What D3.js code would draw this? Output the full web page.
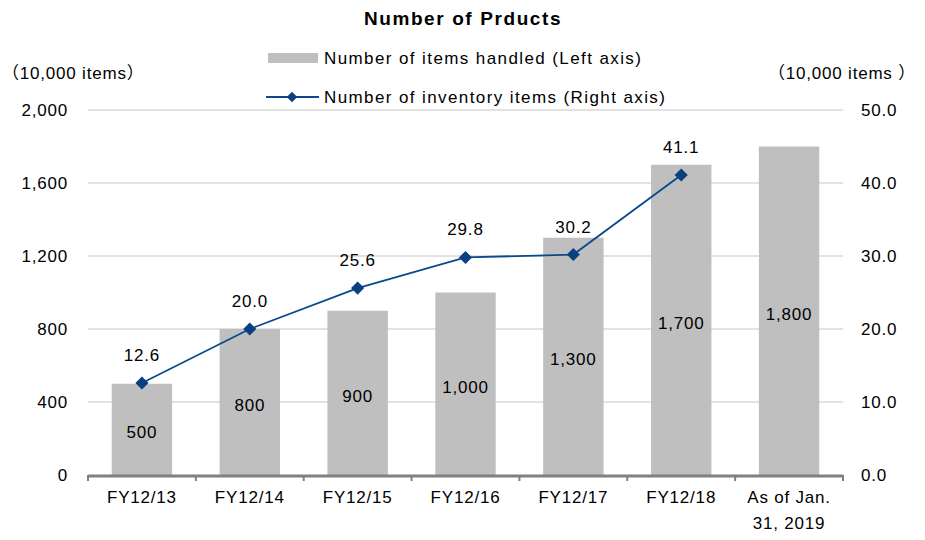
<!DOCTYPE html>
<html><head><meta charset="utf-8">
<script src="https://cdn.jsdelivr.net/npm/d3@7/dist/d3.min.js"></script>
<style>body{margin:0;background:#fff}svg{display:block}text{font-family:"Liberation Sans","Noto Sans CJK JP",sans-serif;fill:#000;letter-spacing:0.8px}</style>
</head><body><svg id="c" width="925" height="540"></svg>
<script>
const categories = ["FY12/13","FY12/14","FY12/15","FY12/16","FY12/17","FY12/18","As of Jan.|31, 2019"];
const itemsHandled = [500,800,900,1000,1300,1700,1800];
const inventoryItems = [12.6,20.0,25.6,29.8,30.2,41.1,null];
const leftTicks = [0,400,800,1200,1600,2000];
const rightTicks = [0,10,20,30,40,50];
const title = "Number of Prducts";
const legendLabels = ["Number of items handled (Left axis)","Number of inventory items (Right axis)"];
const leftUnit = "（10,000 items）";
const rightUnit = "（10,000 items ）";

const svg = d3.select("#c");
const L = 88, R = 843, T = 110, B = 475;
const x = d3.scaleBand().domain(categories).range([L,R]).paddingInner(0.44).paddingOuter(0.22);
const yL = d3.scaleLinear().domain([0,2000]).range([B,T]);
const yR = d3.scaleLinear().domain([0,50]).range([B,T]);
const fs = 17;

// gridlines
svg.append("g").selectAll("line").data(leftTicks.filter(d=>d>0)).join("line")
  .attr("x1",L).attr("x2",R).attr("y1",d=>yL(d)).attr("y2",d=>yL(d))
  .attr("stroke","#d9d9d9").attr("stroke-width",1.5);

// bars
svg.append("g").selectAll("rect").data(itemsHandled).join("rect")
  .attr("x",(d,i)=>x(categories[i])).attr("width",x.bandwidth())
  .attr("y",d=>yL(d)).attr("height",d=>B-yL(d)).attr("fill","#bfbfbf");

// bar labels
const fmt = d3.format(",");
svg.append("g").selectAll("text").data(itemsHandled).join("text")
  .attr("x",(d,i)=>x(categories[i])+x.bandwidth()/2)
  .attr("y",d=>(yL(d)+B)/2+3).attr("dy","0.35em")
  .attr("text-anchor","middle").attr("font-size",fs).text(d=>fmt(d));

// x axis line + ticks
svg.append("line").attr("x1",L).attr("x2",R).attr("y1",B+1).attr("y2",B+1).attr("stroke","#808080").attr("stroke-width",3);
svg.append("g").selectAll("line").data(d3.range(categories.length+1)).join("line")
  .attr("x1",i=>L+i*(R-L)/categories.length).attr("x2",i=>L+i*(R-L)/categories.length)
  .attr("y1",B).attr("y2",B+6).attr("stroke","#808080").attr("stroke-width",2);

// x labels
svg.append("g").selectAll("text").data(categories).join("text")
  .attr("x",d=>x(d)+x.bandwidth()/2).attr("y",B+28).attr("text-anchor","middle").attr("font-size",fs)
  .each(function(d){
    const parts=d.split("|");
    d3.select(this).selectAll("tspan").data(parts).join("tspan")
      .attr("x",x(d)+x.bandwidth()/2).attr("dy",(p,j)=>j?26:0).text(p=>p);
  });

// left axis labels
svg.append("g").selectAll("text").data(leftTicks).join("text")
  .attr("x",68).attr("y",d=>yL(d)).attr("dy","0.35em").attr("text-anchor","end").attr("font-size",fs).text(d=>fmt(d));
// right axis labels
svg.append("g").selectAll("text").data(rightTicks).join("text")
  .attr("x",861).attr("y",d=>yR(d)).attr("dy","0.35em").attr("text-anchor","start").attr("font-size",fs).text(d=>d.toFixed(1));

// units
svg.append("text").attr("x",2).attr("y",79).attr("font-size",fs).text(leftUnit);
svg.append("text").attr("x",916).attr("y",79).attr("text-anchor","end").attr("font-size",fs).text(rightUnit);

// line
const pts = inventoryItems.map((v,i)=>({v,c:categories[i]})).filter(d=>d.v!=null);
const cx = d=>x(d.c)+x.bandwidth()/2;
svg.append("path").datum(pts).attr("fill","none").attr("stroke","#0a4a8c").attr("stroke-width",1.8)
  .attr("d",d3.line().x(cx).y(d=>yR(d.v)));
svg.append("g").selectAll("path").data(pts).join("path")
  .attr("d",d3.symbol(d3.symbolDiamond2,110)).attr("transform",d=>`translate(${cx(d)},${yR(d.v)})`)
  .attr("fill","#0a3f80");
svg.append("g").selectAll("text").data(pts).join("text")
  .attr("x",cx).attr("y",d=>yR(d.v)-22).attr("text-anchor","middle").attr("font-size",fs).text(d=>d.v.toFixed(1));

// title
svg.append("text").attr("x",463).attr("y",25).attr("text-anchor","middle").attr("font-size",19).attr("font-weight","bold").style("letter-spacing","1.6px").text(title);

// legend
svg.append("rect").attr("x",268).attr("y",53).attr("width",50).attr("height",10).attr("fill","#bfbfbf");
svg.append("text").attr("x",324).attr("y",58).attr("dy","0.35em").attr("font-size",fs).style("letter-spacing","1.4px").text(legendLabels[0]);
svg.append("line").attr("x1",266).attr("x2",319).attr("y1",97).attr("y2",97).attr("stroke","#0a4a8c").attr("stroke-width",1.8);
svg.append("path").attr("d",d3.symbol(d3.symbolDiamond2,70)).attr("transform","translate(292,97)").attr("fill","#0a3f80");
svg.append("text").attr("x",324).attr("y",97).attr("dy","0.35em").attr("font-size",fs).style("letter-spacing","1.4px").text(legendLabels[1]);
</script></body></html>
